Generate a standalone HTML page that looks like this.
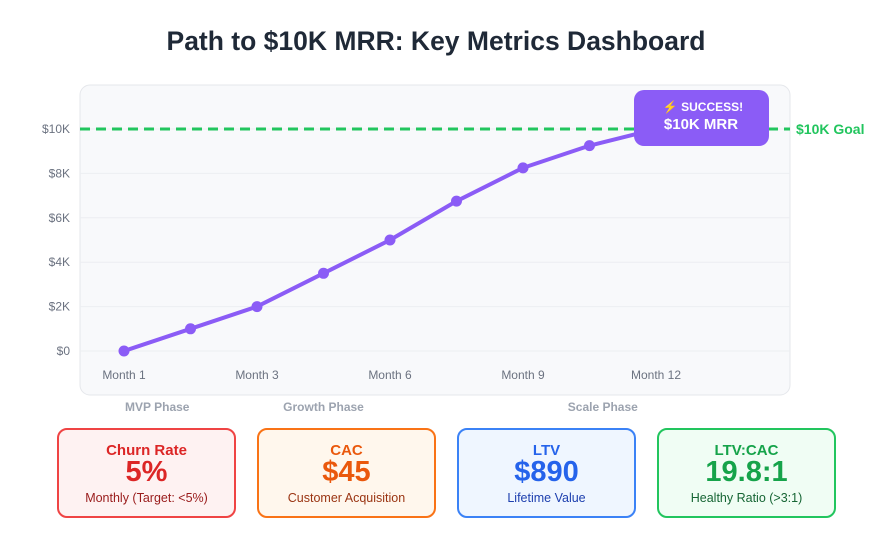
<!DOCTYPE html>
<html><head><meta charset="utf-8"><style>
body{margin:0;width:894px;height:545px;background:#fff;font-family:"Liberation Sans",sans-serif;overflow:hidden;position:relative}
h1{position:absolute;top:26px;left:0;width:872px;text-align:center;margin:0;font-size:26.5px;font-weight:bold;color:#1f2937}
.card{position:absolute;top:428px;width:179px;height:90px;border:2px solid;border-radius:10px;text-align:center;box-sizing:border-box}
.card .t{margin-top:13px;font-size:15px;font-weight:bold;line-height:16px}
.card .v{font-size:29px;font-weight:bold;line-height:27px}
.card .s{font-size:12.5px;margin-top:5px}
</style></head><body>
<h1>Path to $10K MRR: Key Metrics Dashboard</h1>
<svg id="chart" width="894" height="420" style="position:absolute;left:0;top:0"></svg>
<div class="card" style="left:57px;border-color:#ef4444;background:#fef2f2"><div class="t" style="color:#dc2626">Churn Rate</div><div class="v" style="color:#dc2626">5%</div><div class="s" style="color:#991b1b">Monthly (Target: &lt;5%)</div></div>
<div class="card" style="left:257px;border-color:#f97316;background:#fff7ed"><div class="t" style="color:#ea580c">CAC</div><div class="v" style="color:#ea580c">$45</div><div class="s" style="color:#9a3412">Customer Acquisition</div></div>
<div class="card" style="left:457px;border-color:#3b82f6;background:#eff6ff"><div class="t" style="color:#2563eb">LTV</div><div class="v" style="color:#2563eb">$890</div><div class="s" style="color:#1e40af">Lifetime Value</div></div>
<div class="card" style="left:657px;border-color:#22c55e;background:#f0fdf4"><div class="t" style="color:#16a34a">LTV:CAC</div><div class="v" style="color:#16a34a">19.8:1</div><div class="s" style="color:#166534">Healthy Ratio (&gt;3:1)</div></div>
<script>
const values=[0,1000,2000,3500,5000,6750,8250,9250,10000];
const xLabels=["Month 1","","Month 3","","Month 6","","Month 9","","Month 12"];
const yTicks=[0,2000,4000,6000,8000,10000];
const yTickLabels=["$0","$2K","$4K","$6K","$8K","$10K"];
const goal=10000;
const phases=["MVP Phase","Growth Phase","Scale Phase"];
const phaseIdx=[0.5,3,7.2];
const NS="http://www.w3.org/2000/svg",svg=document.getElementById('chart');
const x=i=>124+i*66.5, y=v=>351-v*0.0222;
function mk(t,a,txt){const e=document.createElementNS(NS,t);for(const k in a)e.setAttribute(k,a[k]);if(txt!==undefined)e.textContent=txt;svg.appendChild(e);return e;}
let e=mk('rect',{x:80,y:85,width:710,height:310,rx:10,fill:'#f8f9fb',stroke:'#e5e7eb'});

yTicks.forEach((t,i)=>{
 e=mk('line',{x1:80,x2:790,y1:y(t),y2:y(t),stroke:'#eceef2'});
 
 e=mk('text',{x:70,y:y(t)+4,'text-anchor':'end','font-size':12,fill:'#6b7280'},yTickLabels[i]);
 
});
xLabels.forEach((l,i)=>{if(!l)return;
 e=mk('text',{x:x(i),y:379,'text-anchor':'middle','font-size':12,fill:'#6b7280'},l);
 });
phases.forEach((p,i)=>{
 e=mk('text',{x:x(phaseIdx[i]),y:411,'text-anchor':'middle','font-size':12,'font-weight':'bold',fill:'#9ca3af'},p);
 });
e=mk('line',{x1:80,x2:790,y1:y(goal),y2:y(goal),stroke:'#22c55e','stroke-width':3,'stroke-dasharray':'10,6'});

e=mk('text',{x:796,y:y(goal)+5,'font-size':14,'font-weight':'bold',fill:'#22c55e'},'$10K Goal');

e=mk('polyline',{points:values.map((v,i)=>x(i)+','+y(v)).join(' '),fill:'none',stroke:'#8b5cf6','stroke-width':4,'stroke-linejoin':'round'});

values.forEach((v,i)=>{e=mk('circle',{cx:x(i),cy:y(v),r:5.5,fill:'#8b5cf6'});
 });
e=mk('rect',{x:634,y:90,width:135,height:56,rx:10,fill:'#8b5cf6'});

e=mk('text',{x:703,y:111,'text-anchor':'middle','font-size':12,'font-weight':'bold',fill:'#fff'},'⚡ SUCCESS!');

e=mk('text',{x:701,y:129,'text-anchor':'middle','font-size':15,'font-weight':'bold',fill:'#fff'},'$10K MRR');

</script>
</body></html>
